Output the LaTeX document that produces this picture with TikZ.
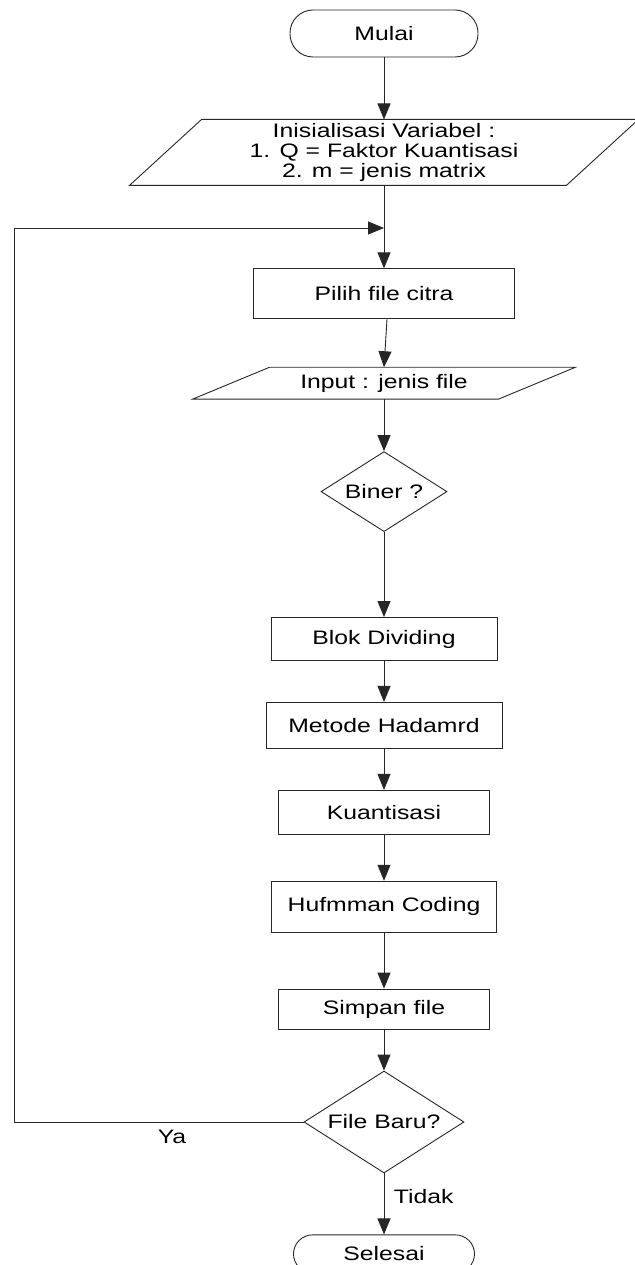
\documentclass[tikz,border=0pt]{standalone}
\usepackage{fontspec}
\setmainfont{Liberation Sans}[FakeStretch=1.27]
\usetikzlibrary{arrows.meta, positioning, shapes.geometric}
\colorlet{linecolor}{black!85}
\tikzset{
  box/.style={
    draw=linecolor,
    line width=0.9pt,
    rectangle,
    align=center,
    inner sep=2pt,
    font=\fontsize{19.5}{19.8}\selectfont
  },
  process/.style={box},
  terminal/.style={box, rounded corners=23pt, minimum width=188pt, minimum height=47pt},
  io/.style={box, draw=none},
  decision/.style={box, diamond, inner sep=0pt},
  arr/.style={-{Triangle[length=16pt,width=13pt]}, line width=0.9pt, draw=linecolor},
  note/.style={font=\fontsize{19.5}{19.8}\selectfont}
}
% outline of an input/output node: #1 node name, #2 half of the slant
\newcommand{\iobox}[2]{%
  \draw[draw=linecolor, line width=0.9pt]
    ([xshift=#2]#1.north west) -- ([xshift=#2]#1.north east)
    -- ([xshift=-#2]#1.south east) -- ([xshift=-#2]#1.south west) -- cycle;}

\begin{document}
\begin{tikzpicture}[x=1pt, y=-1pt]
\useasboundingbox (0,0) rectangle (634,1265);

\node[terminal] (mulai) at (384,33.5) {Mulai};
\node[io, minimum width=436pt, minimum height=65pt, below=62pt of mulai] (init) {Inisialisasi Variabel :\\1. Q = Faktor Kuantisasi\\2. m = jenis matrix};
\node[process, minimum width=261pt, minimum height=50pt, below=83pt of init] (pilih) {Pilih file citra};
\node[io, minimum width=305pt, minimum height=31pt, below=48pt of pilih] (input) {Input : jenis file};
\node[decision, aspect=1.575, minimum width=126pt, minimum height=80pt, below=52pt of input] (biner) {Biner ?};
\node[process, minimum width=226pt, minimum height=43pt, below=85pt of biner] (blok) {Blok Dividing};
\node[process, minimum width=236pt, minimum height=46pt, below=41pt of blok] (hadamard) {Metode Hadamrd};
\node[process, minimum width=211pt, minimum height=44pt, below=41pt of hadamard] (kuantisasi) {Kuantisasi};
\node[process, minimum width=225pt, minimum height=51pt, below=46pt of kuantisasi] (huffman) {Hufmman Coding};
\node[process, minimum width=211pt, minimum height=40pt, below=56pt of huffman] (simpan) {Simpan file};
\node[decision, aspect=1.57, minimum width=160pt, minimum height=102pt, below=41pt of simpan] (filebaru) {File Baru?};
\node[terminal, minimum width=181pt, minimum height=38pt, rounded corners=19pt, below=61pt of filebaru] (selesai) {Selesai};

\iobox{init}{36pt}
\iobox{input}{38.5pt}

\coordinate (join) at (init.south |- 0,228);
\coordinate (loopleft) at (14,228);

\draw[arr] (mulai) -- (init);
\draw[arr] (init) -- (pilih);
\draw[arr] ([xshift=3pt]pilih.south) -- (input.north);
\draw[arr] (input) -- (biner);
\draw[arr] (biner) -- (blok);
\draw[arr] (blok) -- (hadamard);
\draw[arr] (hadamard) -- (kuantisasi);
\draw[arr] (kuantisasi) -- (huffman);
\draw[arr] (huffman) -- (simpan);
\draw[arr] (simpan) -- (filebaru);
\draw[arr] (filebaru) -- node[note, anchor=west, xshift=6pt, pos=0.38] {Tidak} (selesai);
\draw[arr] (filebaru.west) -| (loopleft) -- (join);

\node[note] (ya) at (172,1137) {Ya};

\end{tikzpicture}
\end{document}
